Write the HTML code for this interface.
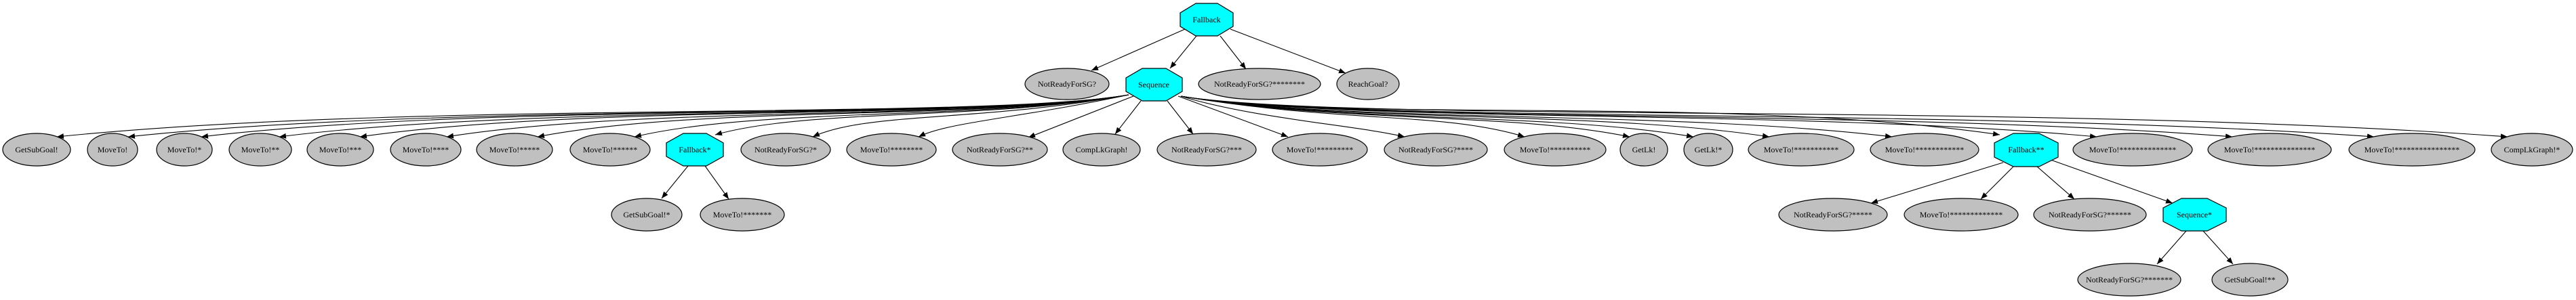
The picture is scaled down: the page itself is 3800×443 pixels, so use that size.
<!DOCTYPE html>
<html><head><meta charset="utf-8"><style>
html,body{margin:0;padding:0;background:#fff;width:3800px;height:443px;overflow:hidden}
svg text{font-family:"Liberation Serif",serif;font-size:12px;text-anchor:middle;dominant-baseline:central;fill:#000}
.e{fill:#c0c0c0;stroke:#000;stroke-width:1.2}
.o{fill:#00ffff;stroke:#000;stroke-width:1.2}
.l{fill:none;stroke:#000;stroke-width:1.1;marker-end:url(#a)}
</style></head><body>
<svg width="3800" height="443" viewBox="0 0 3800 443" xmlns="http://www.w3.org/2000/svg">
<defs><marker id="a" markerWidth="10" markerHeight="8" refX="10" refY="4" orient="auto" markerUnits="userSpaceOnUse"><polygon points="0,0 10,4 0,8" fill="#000"/></marker></defs>
<path class="l" d="M1748,43 L1610,104"/>
<path class="l" d="M1765,53 L1726,101"/>
<path class="l" d="M1800,53 L1838,102"/>
<path class="l" d="M1815,43 L1985,108"/>
<path class="l" d="M1665,140 C1450,178 610,148 84,202"/>
<path class="l" d="M1665,140 C1450,178 673,150 189,202"/>
<path class="l" d="M1665,140 C1450,178 738,150 297,202"/>
<path class="l" d="M1665,140 C1450,178 807,152 412,202"/>
<path class="l" d="M1665,140 C1450,178 879,152 531,202"/>
<path class="l" d="M1665,140 C1450,178 955,155 659,202"/>
<path class="l" d="M1665,140 C1450,178 1036,155 793,202"/>
<path class="l" d="M1665,140 C1450,178 1122,158 936,202"/>
<path class="l" d="M1665,140 C1450,178 1193,160 1055,199"/>
<path class="l" d="M1665,140 C1450,180 1279,165 1199,202"/>
<path class="l" d="M1665,140 C1500,175 1400,180 1355,202"/>
<path class="l" d="M1672,142 L1517,203"/>
<path class="l" d="M1683,149 L1645,198"/>
<path class="l" d="M1722,149 L1760,198"/>
<path class="l" d="M1738,142 L1900,202"/>
<path class="l" d="M1742,142 C1850,175 2000,185 2072,202"/>
<path class="l" d="M1742,142 C1980,182 2129,165 2249,202"/>
<path class="l" d="M1742,142 C1980,182 2222,165 2404,202"/>
<path class="l" d="M1742,142 C1980,182 2279,165 2498,202"/>
<path class="l" d="M1742,142 C1980,182 2346,162 2610,202"/>
<path class="l" d="M1742,142 C1980,182 2455,162 2791,202"/>
<path class="l" d="M1742,142 C1980,182 2550,140 2950,199"/>
<path class="l" d="M1742,142 C1980,182 2636,160 3093,202"/>
<path class="l" d="M1742,142 C1980,182 2756,160 3293,202"/>
<path class="l" d="M1742,142 C1980,182 2881,158 3502,202"/>
<path class="l" d="M1742,142 C1980,182 2999,150 3699,202"/>
<path class="l" d="M1015,245 L976,293"/>
<path class="l" d="M1040,245 L1075,294"/>
<path class="l" d="M2955,240 L2760,300"/>
<path class="l" d="M2970,246 L2922,294"/>
<path class="l" d="M3005,246 L3060,294"/>
<path class="l" d="M3025,236 L3205,300"/>
<path class="l" d="M3225,341 L3182,390"/>
<path class="l" d="M3250,341 L3294,390"/>
<polygon class="o" points="1764,5 1796,5 1819,19 1819,39 1796,53 1764,53 1741,39 1741,19"/><text x="1780" y="29">Fallback</text>
<polygon class="o" points="1685,101 1720,101 1744,115 1744,135 1720,149 1685,149 1661,135 1661,115"/><text x="1702" y="125">Sequence</text>
<polygon class="o" points="1008,197 1042,197 1067,211 1067,231 1042,245 1008,245 983,231 983,211"/><text x="1025" y="221">Fallback*</text>
<polygon class="o" points="2970,197 3008,197 3036,211 3036,232 3008,246 2970,246 2942,232 2942,211"/><text x="2989" y="221">Fallback**</text>
<polygon class="o" points="3218,293 3256,293 3284,307 3284,327 3256,341 3218,341 3191,327 3191,307"/><text x="3237" y="317">Sequence*</text>
<ellipse class="e" cx="1574" cy="124" rx="62" ry="23"/><text x="1574" y="124">NotReadyForSG?</text>
<ellipse class="e" cx="1858" cy="124" rx="90" ry="23"/><text x="1858" y="124">NotReadyForSG?********</text>
<ellipse class="e" cx="2018" cy="124" rx="46" ry="23"/><text x="2018" y="124">ReachGoal?</text>
<ellipse class="e" cx="54" cy="221" rx="50" ry="24"/><text x="54" y="221">GetSubGoal!</text>
<ellipse class="e" cx="166" cy="221" rx="37" ry="24"/><text x="166" y="221">MoveTo!</text>
<ellipse class="e" cx="272" cy="221" rx="41" ry="24"/><text x="272" y="221">MoveTo!*</text>
<ellipse class="e" cx="384" cy="221" rx="46" ry="24"/><text x="384" y="221">MoveTo!**</text>
<ellipse class="e" cx="502" cy="221" rx="49" ry="24"/><text x="502" y="221">MoveTo!***</text>
<ellipse class="e" cx="628" cy="221" rx="52" ry="24"/><text x="628" y="221">MoveTo!****</text>
<ellipse class="e" cx="759" cy="221" rx="56" ry="24"/><text x="759" y="221">MoveTo!*****</text>
<ellipse class="e" cx="900" cy="221" rx="59" ry="24"/><text x="900" y="221">MoveTo!******</text>
<ellipse class="e" cx="1159" cy="221" rx="66" ry="24"/><text x="1159" y="221">NotReadyForSG?*</text>
<ellipse class="e" cx="1315" cy="221" rx="66" ry="24"/><text x="1315" y="221">MoveTo!********</text>
<ellipse class="e" cx="1475" cy="221" rx="70" ry="24"/><text x="1475" y="221">NotReadyForSG?**</text>
<ellipse class="e" cx="1625" cy="221" rx="57" ry="24"/><text x="1625" y="221">CompLkGraph!</text>
<ellipse class="e" cx="1780" cy="221" rx="73" ry="24"/><text x="1780" y="221">NotReadyForSG?***</text>
<ellipse class="e" cx="1947" cy="221" rx="70" ry="24"/><text x="1947" y="221">MoveTo!*********</text>
<ellipse class="e" cx="2118" cy="221" rx="76" ry="24"/><text x="2118" y="221">NotReadyForSG?****</text>
<ellipse class="e" cx="2294" cy="221" rx="75" ry="24"/><text x="2294" y="221">MoveTo!**********</text>
<ellipse class="e" cx="2425" cy="221" rx="35" ry="24"/><text x="2425" y="221">GetLk!</text>
<ellipse class="e" cx="2520" cy="221" rx="36" ry="24"/><text x="2520" y="221">GetLk!*</text>
<ellipse class="e" cx="2657" cy="221" rx="78" ry="24"/><text x="2657" y="221">MoveTo!***********</text>
<ellipse class="e" cx="2839" cy="221" rx="80" ry="24"/><text x="2839" y="221">MoveTo!************</text>
<ellipse class="e" cx="3146" cy="221" rx="88" ry="24"/><text x="3146" y="221">MoveTo!**************</text>
<ellipse class="e" cx="3348" cy="221" rx="91" ry="24"/><text x="3348" y="221">MoveTo!***************</text>
<ellipse class="e" cx="3558" cy="221" rx="93" ry="24"/><text x="3558" y="221">MoveTo!****************</text>
<ellipse class="e" cx="3735" cy="221" rx="60" ry="24"/><text x="3735" y="221">CompLkGraph!*</text>
<ellipse class="e" cx="954" cy="317" rx="52" ry="24"/><text x="954" y="317">GetSubGoal!*</text>
<ellipse class="e" cx="1095" cy="317" rx="62" ry="24"/><text x="1095" y="317">MoveTo!*******</text>
<ellipse class="e" cx="2704" cy="317" rx="80" ry="24"/><text x="2704" y="317">NotReadyForSG?*****</text>
<ellipse class="e" cx="2893" cy="317" rx="84" ry="24"/><text x="2893" y="317">MoveTo!*************</text>
<ellipse class="e" cx="3083" cy="317" rx="83" ry="24"/><text x="3083" y="317">NotReadyForSG?******</text>
<ellipse class="e" cx="3141" cy="413" rx="76" ry="24"/><text x="3141" y="413">NotReadyForSG?*******</text>
<ellipse class="e" cx="3319" cy="413" rx="56" ry="24"/><text x="3319" y="413">GetSubGoal!**</text>
</svg>
</body></html>
